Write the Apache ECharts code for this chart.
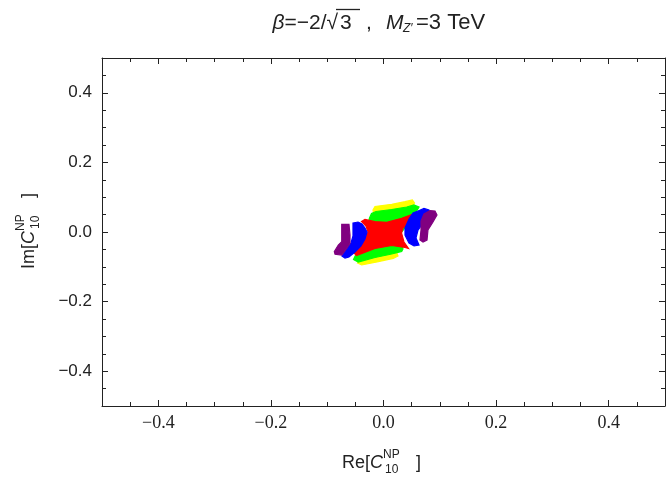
<!DOCTYPE html>
<html>
<head>
<meta charset="utf-8">
<script src="https://cdn.jsdelivr.net/npm/echarts@6/dist/echarts.min.js"></script>
<style>
    html, body { margin: 0; padding: 0; background: #ffffff; }
    #chart { width: 667px; height: 482px; }
</style>
</head>
<body>
<div id="chart"></div>
<script>
// tick positions (data units)
const majorTicks = [-0.4, -0.2, 0, 0.2, 0.4];
const minorTicks = [-0.45, -0.4, -0.35, -0.3, -0.25, -0.2, -0.15, -0.1, -0.05, 0,
    0.05, 0.1, 0.15, 0.2, 0.25, 0.3, 0.35, 0.4, 0.45];

// allowed regions, outlines as [Re, Im]
const yellowRegion = [[-0.0187, 0.0632], [-0.0151, 0.0733], [0.0146, 0.0796], [0.0382, 0.0871],
    [0.0512, 0.0920], [0.0551, 0.0833], [0.0258, 0.0201], [0.0151, -0.0230], [0.0258, -0.0690],
    [0.0174, -0.0756], [-0.0092, -0.0853], [-0.0387, -0.0948], [-0.0462, -0.0891],
    [-0.0240, -0.0374], [-0.0133, 0.0201]];
const greenRegion = [[-0.0249, 0.0402], [-0.0213, 0.0532], [-0.0133, 0.0589], [0.0146, 0.0647],
    [0.0412, 0.0718], [0.0542, 0.0776], [0.0631, 0.0718], [0.0471, 0.0287], [0.0275, -0.0086],
    [0.0346, -0.0489], [0.0323, -0.0560], [0.0146, -0.0632], [-0.0151, -0.0733],
    [-0.0448, -0.0862], [-0.0533, -0.0790], [-0.0453, -0.0517], [-0.0240, -0.0057],
    [-0.0275, 0.0230]];
const redRegion = [[-0.0391, 0.0302], [-0.0329, 0.0359], [-0.0151, 0.0296], [0.0057, 0.0279],
    [0.0323, 0.0394], [0.0560, 0.0537], [0.0613, 0.0503], [0.0471, 0.0287], [0.0346, 0.0115],
    [0.0320, -0.0029], [0.0364, -0.0287], [0.0444, -0.0474], [0.0382, -0.0445],
    [0.0146, -0.0388], [-0.0151, -0.0474], [-0.0480, -0.0675], [-0.0524, -0.0603],
    [-0.0453, -0.0402], [-0.0346, -0.0230], [-0.0275, 0], [-0.0311, 0.0172]];
const blueLeft = [[-0.0542, 0.0259], [-0.0453, 0.0287], [-0.0382, 0.0230], [-0.0329, 0.0115],
    [-0.0293, 0], [-0.0329, -0.0201], [-0.0400, -0.0402], [-0.0506, -0.0575], [-0.0613, -0.0718],
    [-0.0684, -0.0747], [-0.0737, -0.0690], [-0.0666, -0.0517], [-0.0577, -0.0316],
    [-0.0542, -0.0115], [-0.0542, 0.0086]];
const blueRight = [[0.0613, 0.0603], [0.0719, 0.0675], [0.0808, 0.0632], [0.0826, 0.0517],
    [0.0719, 0.0287], [0.0613, 0.0057], [0.0577, -0.0172], [0.0631, -0.0374], [0.0542, -0.0402],
    [0.0453, -0.0316], [0.0382, -0.0086], [0.0382, 0.0115], [0.0453, 0.0374], [0.0524, 0.0546]];
const purpleLeft = [[-0.0742, 0.0221], [-0.0613, 0.0221], [-0.0595, -0.0086], [-0.0595, -0.0325],
    [-0.0654, -0.0468], [-0.0742, -0.0661], [-0.0861, -0.0641], [-0.0874, -0.0566],
    [-0.0803, -0.0374], [-0.0742, -0.0279], [-0.0742, 0.0106]];
const purpleRight = [[0.0719, 0.0517], [0.0826, 0.0618], [0.0915, 0.0603], [0.0950, 0.0489],
    [0.0879, 0.0287], [0.0790, 0.0057], [0.0773, -0.0230], [0.0702, -0.0287], [0.0648, -0.0230],
    [0.0666, 0.0057], [0.0666, 0.0316]];

const frameColor = '#222';
const sans = '"Liberation Sans", Arial, sans-serif';
const serif = '"Liberation Serif", "Times New Roman", serif';

function tickText(v) {
    const s = Math.abs(v).toFixed(1);
    return v < 0 ? '\u2212' + s : s;
}

// one frame side = a major axis (line, long ticks, maybe labels) + a minor-tick overlay
function frameSide(position, withLabels, labelFont, fontSize, margin) {
    const base = {
        type: 'value', position: position, min: -0.5, max: 0.5,
        splitLine: {show: false}
    };
    return [
        Object.assign({}, base, {
            axisLine: {show: true, onZero: false, lineStyle: {color: frameColor, width: 1}},
            axisTick: {show: true, inside: true, length: 6, customValues: majorTicks,
                lineStyle: {color: frameColor, width: 1}},
            axisLabel: {show: withLabels, customValues: majorTicks, formatter: tickText,
                margin: margin, color: '#222', fontSize: fontSize, fontFamily: labelFont}
        }),
        Object.assign({}, base, {
            axisLine: {show: false, onZero: false},
            axisTick: {show: true, inside: true, length: 4, customValues: minorTicks,
                lineStyle: {color: frameColor, width: 1}},
            axisLabel: {show: false}
        })
    ];
}

function regionSeries(pts, color) {
    return {
        type: 'custom',
        xAxisIndex: 0,
        yAxisIndex: 0,
        silent: true,
        data: pts,
        renderItem: function (params, api) {
            if (params.dataIndex !== 0) return null;
            return {
                type: 'polygon',
                shape: {points: pts.map(p => api.coord(p))},
                style: {fill: color, stroke: color, lineWidth: 1.2}
            };
        }
    };
}

function label(t, x, y, font, align) {
    return {
        type: 'text', x: x, y: y,
        style: {text: t, fill: '#222', font: font, align: align || 'left', verticalAlign: 'middle'}
    };
}

// axis name like  Re[ C^NP_10 ]  with stacked super/subscript; origin = start of "C"
function axisName(prefix, x, y, rotation) {
    return {
        type: 'group', x: x, y: y, rotation: rotation,
        children: [
            label(prefix, 0, 0, '18px ' + sans, 'right'),
            label('C', 0, 0, 'italic 18px ' + sans),
            label('NP', 13, -8, '12px ' + sans),
            label('10', 15, 7, '12px ' + sans),
            label(']', 46, 0, '18px ' + sans)
        ]
    };
}

const chart = echarts.init(document.getElementById('chart'), null, {renderer: 'canvas'});

chart.setOption({
    animation: false,
    backgroundColor: '#ffffff',
    grid: {left: 102, right: 2, top: 58, bottom: 76, containLabel: false},
    xAxis: [].concat(frameSide('bottom', true, serif, 18, 8), frameSide('top', false, serif, 18, 8)),
    yAxis: [].concat(frameSide('left', true, sans, 17, 10), frameSide('right', false, sans, 17, 8)),
    series: [
        regionSeries(yellowRegion, '#ffff00'),
        regionSeries(greenRegion, '#00ff00'),
        regionSeries(redRegion, '#ff0000'),
        regionSeries(blueLeft, '#0000ff'),
        regionSeries(blueRight, '#0000ff'),
        regionSeries(purpleLeft, '#800080'),
        regionSeries(purpleRight, '#800080')
    ],
    graphic: [
        // title: beta = -2/sqrt(3),  M_Z' = 3 TeV
        {type: 'text', x: 338, y: 23, style: {
            rich: {i: {fontStyle: 'italic', fontSize: 21, fontFamily: sans, fill: '#222'}},
            text: '{i|β}=\u22122/\u221a', align: 'right', verticalAlign: 'middle',
            fill: '#222', font: '21px ' + sans}},
        label('3', 340, 23, '21px ' + sans),
        {type: 'line', shape: {x1: 336, y1: 9.5, x2: 360, y2: 9.5}, style: {stroke: '#222', lineWidth: 1.3}},
        label(',', 366, 23, '21px ' + sans),
        label('M', 386, 23, 'italic 21px ' + sans),
        label('Z\u2032', 403, 29, 'italic 12px ' + sans),
        label('=3 TeV', 416, 23, '22px ' + sans),
        axisName('Re[', 370, 463, 0),
        axisName('Im[', 29, 244, Math.PI / 2)
    ]
});
</script>
</body>
</html>
